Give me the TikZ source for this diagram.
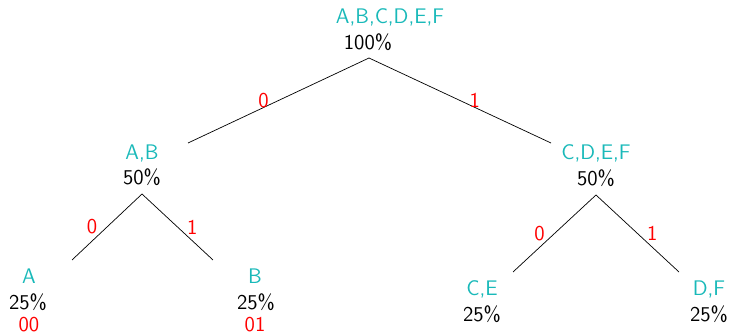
\documentclass[tikz,border=0pt]{standalone}
\usepackage{amsmath}
\usepackage{amssymb}
\usepackage{xcolor}
\definecolor{setcyan}{RGB}{25,185,185}

\begin{document}
\begin{tikzpicture}[x=0.02cm,y=-0.02cm,font=\sffamily\fontsize{12}{14}\selectfont,
                setlbl/.style={anchor=base,inner sep=0pt,text=setcyan},
                pct/.style={anchor=base,inner sep=0pt},
                code/.style={anchor=base,inner sep=0pt,text=red},
                bit/.style={text=red}]
                \useasboundingbox (0,0) rectangle (731,334);

                \node (abcdef) at (390,24) [setlbl] {A,B,C,D,E,F};
                \node (p0) at (368,50) [pct] {100\%};

                \node (ab) at (142,160) [setlbl] {A,B};
                \node (pab) at (142,185) [pct] {50\%};
                \node (cdef) at (596,160) [setlbl] {C,D,E,F};
                \node (pcdef) at (596,186) [pct] {50\%};

                \node (a) at (29,284) [setlbl] {A};
                \node (pa) at (28,310) [pct] {25\%};
                \node (ca) at (29,332) [code] {00};
                \node (b) at (255,284) [setlbl] {B};
                \node (pb) at (256,310) [pct] {25\%};
                \node (cb) at (255,332) [code] {01};

                \node (ce) at (482,296) [setlbl] {C,E};
                \node (pce) at (482,322) [pct] {25\%};
                \node (df) at (709,296) [setlbl] {D,F};
                \node (pdf) at (709,322) [pct] {25\%};

                \coordinate (r0) at (369,58);
                \coordinate (rab) at (142,194);
                \coordinate (rcdef) at (596,195);
                \coordinate (tab) at (188,143);
                \coordinate (tcdef) at (551,143);
                \coordinate (ta) at (72,260);
                \coordinate (tb) at (213,260);
                \coordinate (tce) at (513,272);
                \coordinate (tdf) at (679,272);

                \draw (r0) -- node[left=2pt,bit] {0} (tab) (r0) -- node[right=2pt,bit] {1} (tcdef);
                \draw (rab) -- node[left=2pt,bit] {0} (ta) (rab) -- node[right=2pt,bit] {1} (tb);
                \draw (rcdef) -- node[left=2pt,bit] {0} (tce) (rcdef) -- node[right=2pt,bit] {1} (tdf);

            \end{tikzpicture}
\end{document}
